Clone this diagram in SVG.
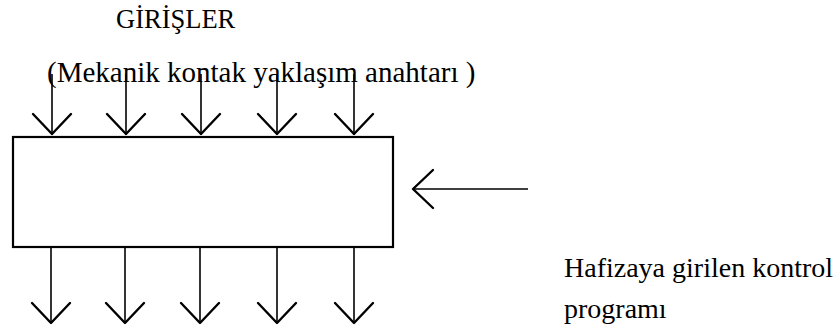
<svg xmlns="http://www.w3.org/2000/svg" width="834" height="330" viewBox="0 0 834 330">
  <style>
    .t { font-family: "Liberation Serif", "Times New Roman", serif; fill: #000; }
    .ln { stroke: #000; stroke-width: 1.6; fill: none; }
    .hd { stroke: #000; stroke-width: 2.4; fill: none; stroke-linecap: round; stroke-linejoin: round; }
    .box { stroke: #000; stroke-width: 2.2; fill: #fff; }
  </style>
  <defs>
    <!-- open V arrowhead, tip at origin, pointing down -->
    <path id="vdown" class="hd" d="M-19,-20 L0,0 L19,-20"/>
  </defs>
  <rect width="834" height="330" fill="#fff"/>

  <g id="title">
    <text class="t" x="116" y="28" font-size="26.5">GİRİŞLER</text>
    <text class="t" x="47" y="82" font-size="29">(Mekanik kontak yaklaşım anahtarı )</text>
  </g>

  <g id="controller">
    <rect class="box" x="13" y="137" width="380" height="110"/>
  </g>

  <g id="program-label">
    <text class="t" x="564" y="277" font-size="28">Hafizaya girilen kontrol</text>
    <text class="t" x="564" y="318" font-size="28">programı</text>
  </g>

  <g id="connectors">
    <!-- inputs -->
    <line class="ln" x1="52" y1="74" x2="52" y2="135"/>
    <line class="ln" x1="126" y1="74" x2="126" y2="135"/>
    <line class="ln" x1="201" y1="74" x2="201" y2="135"/>
    <line class="ln" x1="277" y1="74" x2="277" y2="135"/>
    <line class="ln" x1="354" y1="74" x2="354" y2="135"/>
    <use href="#vdown" x="52" y="134"/>
    <use href="#vdown" x="126" y="134"/>
    <use href="#vdown" x="201" y="134"/>
    <use href="#vdown" x="277" y="134"/>
    <use href="#vdown" x="354" y="134"/>
    <!-- outputs -->
    <line class="ln" x1="51" y1="248" x2="51" y2="323"/>
    <line class="ln" x1="125" y1="248" x2="125" y2="323"/>
    <line class="ln" x1="200" y1="248" x2="200" y2="323"/>
    <line class="ln" x1="277" y1="248" x2="277" y2="323"/>
    <line class="ln" x1="354" y1="248" x2="354" y2="323"/>
    <use href="#vdown" x="51" y="323"/>
    <use href="#vdown" x="125" y="323"/>
    <use href="#vdown" x="200" y="323"/>
    <use href="#vdown" x="277" y="323"/>
    <use href="#vdown" x="354" y="323"/>
    <!-- program into controller -->
    <line class="ln" x1="413" y1="189" x2="528" y2="189"/>
    <path class="hd" d="M433,170 L413,189 L433,208"/>
  </g>
</svg>
